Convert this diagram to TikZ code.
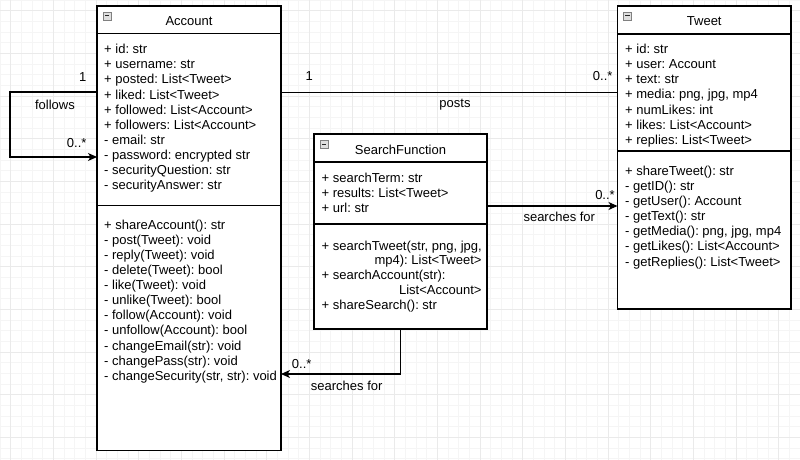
\documentclass[tikz,border=0pt]{standalone}
\usepackage{fontspec}
\setmainfont{Liberation Sans}
\usetikzlibrary{positioning,arrows.meta}
\definecolor{gridminor}{HTML}{F5F5F5}
\definecolor{gridmajor}{HTML}{EAEAEA}

\begin{document}
\begin{tikzpicture}
  [x=1pt,y=-1pt,
   every node/.style={font=\fontsize{13pt}{15pt}\selectfont\frenchspacing},
   box/.style={draw,line width=1.1pt,fill=white,rectangle,inner sep=0,outer sep=0,anchor=north west},
   head/.style={box,text height=12pt,text depth=0pt},
   member/.style={anchor=base west,inner sep=0},
   lbl/.style={anchor=base,inner sep=0},
   link/.style={draw,line width=1.1pt},
   assoc/.style={link,-{Stealth[length=9pt,width=8pt,inset=2.5pt]}}]

\useasboundingbox (0,0) rectangle (800,460);

% background grid
\draw[gridminor,line width=0.5pt] (0,0) grid[step=10.667pt] (800,460);
\draw[gridmajor,line width=0.5pt,shift={(10.667,10.667)}] (-10.667,-10.667) grid[step=42.667pt] (789.333,449.333);

% Account
\node[head,minimum width=184pt,minimum height=27.5pt] (acchead) at (97,6) {Account};
\node[box,minimum width=184pt,minimum height=172pt,below=0pt of acchead] (accattr) {};
\node[box,minimum width=184pt,minimum height=245pt,below=0pt of accattr] (accmeth) {};

% Tweet
\node[head,minimum width=173.5pt,minimum height=28pt] (twhead) at (617.5,6) {Tweet};
\node[box,minimum width=173.5pt,minimum height=117pt,below=0pt of twhead] (twattr) {};
\node[box,minimum width=173.5pt,minimum height=158pt,below=0pt of twattr] (twmeth) {};

% SearchFunction
\node[head,minimum width=173pt,minimum height=28pt] (sfhead) at (314,134) {SearchFunction};
\node[box,minimum width=173pt,minimum height=62pt,below=0pt of sfhead] (sfattr) {};
\node[box,minimum width=173pt,minimum height=105pt,below=0pt of sfattr] (sfmeth) {};

% collapse icons
\foreach \h in {acchead,twhead,sfhead} {
  \draw[gray,fill=gray!25,line width=0.6pt] ([xshift=6pt,yshift=-6pt]\h.north west) rectangle ++(8,8);
  \draw[gray!30!black,line width=1pt] ([xshift=7.8pt,yshift=-10pt]\h.north west) -- ++(4.4,0);
}

% members
\foreach \m [count=\i from 0] in {{+ id: str},{+ username: str},{+ posted: List<Tweet>},
    {+ liked: List<Tweet>},{+ followed: List<Account>},{+ followers: List<Account>},
    {- email: str},{- password: encrypted str},{- securityQuestion: str},{- securityAnswer: str}}
  \node[member] (acca\i) at ([xshift=7pt,yshift=-20.1pt-15.15pt*\i]accattr.north west) {\m};
\foreach \m [count=\i from 0] in {{+ shareAccount(): str},{- post(Tweet): void},{- reply(Tweet): void},
    {- delete(Tweet): bool},{- like(Tweet): void},{- unlike(Tweet): bool},{- follow(Account): void},
    {- unfollow(Account): bool},{- changeEmail(str): void},{- changePass(str): void},
    {- changeSecurity(str, str): void}}
  \node[member] (accm\i) at ([xshift=7pt,yshift=-23.5pt-15.13pt*\i]accmeth.north west) {\m};

\foreach \m [count=\i from 0] in {{+ id: str},{+ user: Account},{+ text: str},{+ media: png, jpg, mp4},
    {+ numLikes: int},{+ likes: List<Account>},{+ replies: List<Tweet>}}
  \node[member] (twa\i) at ([xshift=7.5pt,yshift=-19.6pt-15.12pt*\i]twattr.north west) {\m};
\foreach \m [count=\i from 0] in {{+ shareTweet(): str},{- getID(): str},{- getUser(): Account},
    {- getText(): str},{- getMedia(): png, jpg, mp4},{- getLikes(): List<Account>},
    {- getReplies(): List<Tweet>}}
  \node[member] (twm\i) at ([xshift=7.5pt,yshift=-24pt-15.17pt*\i]twmeth.north west) {\m};

\foreach \m [count=\i from 0] in {{+ searchTerm: str},{+ results: List<Tweet>},{+ url: str}}
  \node[member] (sfa\i) at ([xshift=7.5pt,yshift=-20pt-15pt*\i]sfattr.north west) {\m};
\node[member] (sfm0) at ([xshift=7.5pt,yshift=-26pt]sfmeth.north west) {+ searchTweet(str, png, jpg,};
\node[member,anchor=base east] (sfm1) at ([xshift=-5.3pt,yshift=-40.3pt]sfmeth.north east) {mp4): List<Tweet>};
\node[member] (sfm2) at ([xshift=7.5pt,yshift=-55.6pt]sfmeth.north west) {+ searchAccount(str):};
\node[member,anchor=base east] (sfm3) at ([xshift=-5.3pt,yshift=-70.3pt]sfmeth.north east) {List<Account>};
\node[member] (sfm4) at ([xshift=7.5pt,yshift=-85.3pt]sfmeth.north west) {+ shareSearch(): str};

% connectors
\draw[assoc] ([yshift=27.5pt]accattr.west) -- ++(-87,0) |- ([yshift=-37.5pt]accattr.west);
\draw[link] (accattr.east |- twattr.west) -- (twattr.west);
\draw[assoc] ([yshift=-13pt]sfattr.east) coordinate (sfout) -- (sfout -| twmeth.west);
\draw[assoc] (sfmeth.south) |- ([yshift=-46pt]accmeth.east);

% labels
\node[lbl] (lfol1) at (82.7,81.6) {1};
\node[lbl] (lfol) at (55,109.6) {follows};
\node[lbl] (lfolm) at (76.7,147) {0..*};
\node[lbl] (lpost1) at (309.3,80) {1};
\node[lbl] (lposts) at (455,107.7) {posts};
\node[lbl] (lpostm) at (602.7,80) {0..*};
\node[lbl] (lst) at (559.3,221.6) {searches for};
\node[lbl] (lstm) at (605,199.3) {0..*};
\node[lbl] (lsa) at (346.7,390) {searches for};
\node[lbl] (lsam) at (301.7,368.3) {0..*};

\end{tikzpicture}
\end{document}
